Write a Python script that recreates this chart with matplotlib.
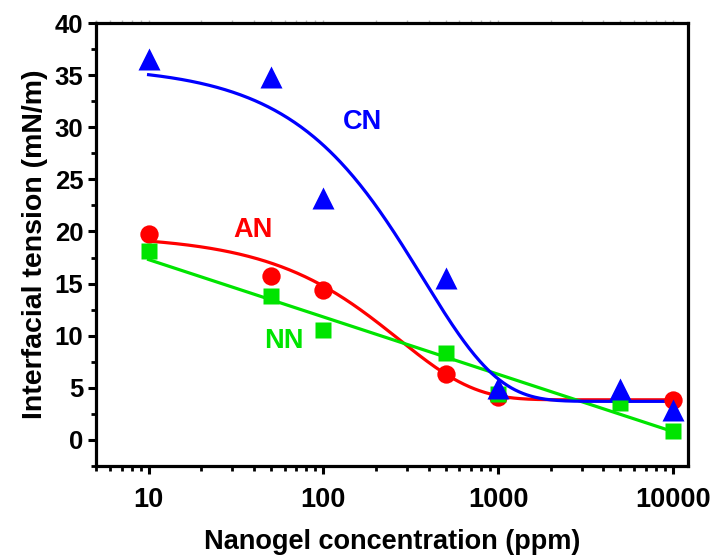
import numpy as np
import matplotlib
matplotlib.use("Agg")
import matplotlib.pyplot as plt
from matplotlib.ticker import LogLocator, FixedLocator, NullFormatter, MultipleLocator

plt.rcParams['font.family'] = ['Liberation Sans', 'DejaVu Sans']
plt.rcParams['font.weight'] = 'bold'

# Data
conc = [10, 50, 100, 500, 1000, 5000, 10000]
cn_ift = [36.5, 34.8, 23.2, 15.5, 5.0, 4.9, 2.9]
an_conc = [10, 50, 100, 500, 1000, 10000]
an_ift = [19.75, 15.7, 14.4, 6.3, 4.1, 3.8]
nn_ift = [18.1, 13.8, 10.5, 8.3, 4.4, 3.5, 0.9]

# Fit parameters
cn_fit = dict(y0=3.7, A=32.2, t=370.0)   # exponential decay
an_fit = dict(y0=3.85, A=15.8, t=270.0)  # exponential decay
nn_fit = dict(a=17.3, b=-5.5)           # linear in log10(x)

x_ticks = [10, 100, 1000, 10000]
x_ticklabels = ['10', '100', '1000', '10000']
y_ticks = [0, 5, 10, 15, 20, 25, 30, 35, 40]

BLUE = '#0000ff'
RED = '#ff0000'
GREEN = '#00e400'

fig = plt.figure(figsize=(7.12, 5.56), dpi=100)
ax = fig.add_axes([0.1348, 0.1619, 0.9663 - 0.1348, 0.9586 - 0.1619])
ax.set_xscale('log')
ax.set_xlim(5, 12200)
ax.set_ylim(-2.5, 40)

xf = np.logspace(1, 4, 400)
cn_curve = cn_fit['y0'] + cn_fit['A'] * np.exp(-xf / cn_fit['t'])
an_curve = an_fit['y0'] + an_fit['A'] * np.exp(-xf / an_fit['t'])
nn_curve = nn_fit['a'] + nn_fit['b'] * (np.log10(xf) - 1)

lw = 2.3
ax.plot(xf, an_curve, color=RED, lw=lw, zorder=2)
ax.plot(xf, nn_curve, color=GREEN, lw=lw, zorder=2)
ax.plot(xf, cn_curve, color=BLUE, lw=lw, zorder=2)

ax.plot(an_conc, an_ift, 'o', color=RED, ms=13.2, mec='none', zorder=3)
ax.plot(conc, nn_ift, 's', color=GREEN, ms=11.7, mec='none', zorder=4)
ax.plot(conc, cn_ift, '^', color=BLUE, ms=15.5, mec='none', zorder=5)

ax.text(167, 30.5, 'CN', color=BLUE, fontsize=19.5, fontweight='bold', ha='center', va='center')
ax.text(39.8, 20.1, 'AN', color=RED, fontsize=19.5, fontweight='bold', ha='center', va='center')
ax.text(59.4, 9.5, 'NN', color=GREEN, fontsize=19.5, fontweight='bold', ha='center', va='center')

for s in ax.spines.values():
    s.set_linewidth(2.3)

ax.xaxis.set_major_locator(FixedLocator(x_ticks))
ax.set_xticklabels(x_ticklabels)
ax.xaxis.set_minor_locator(LogLocator(base=10, subs=np.arange(2, 10), numticks=20))
ax.xaxis.set_minor_formatter(NullFormatter())
ax.yaxis.set_major_locator(FixedLocator(y_ticks))
ax.yaxis.set_minor_locator(MultipleLocator(2.5))

ax.tick_params(axis='both', which='major', direction='out', length=6, width=2.2)
ax.tick_params(axis='both', which='minor', direction='out', length=3.5, width=2.0)
ax.tick_params(axis='x', which='major', labelsize=19.5, pad=9)
ax.tick_params(axis='y', which='major', labelsize=18.5, pad=3)
ax.tick_params(axis='x', which='both', top=False)
ax.tick_params(axis='y', which='both', right=False)

# faint ticks on the top spine
sec = ax.secondary_xaxis('top')
sec.xaxis.set_major_locator(FixedLocator(x_ticks))
sec.xaxis.set_minor_locator(LogLocator(base=10, subs=np.arange(2, 10), numticks=20))
sec.tick_params(which='both', direction='out', length=2, width=1, color='#bbbbbb',
                labeltop=False)
sec.spines['top'].set_visible(False)

ax.set_xlabel('Nanogel concentration (ppm)', fontsize=19.5, fontweight='bold', labelpad=12)
ax.set_ylabel('Interfacial tension (mN/m)', fontsize=20.5, fontweight='bold', labelpad=5)

fig.savefig('out.png', dpi=100)
